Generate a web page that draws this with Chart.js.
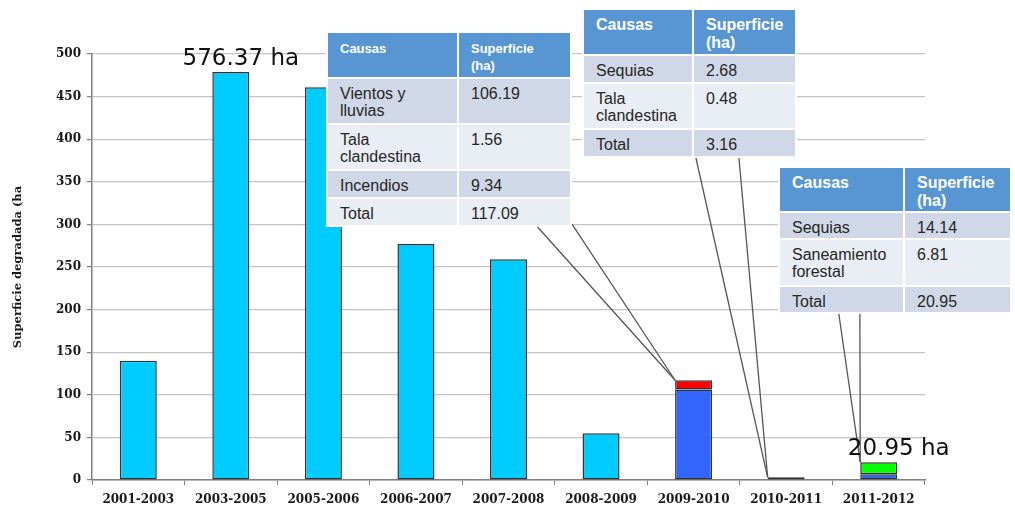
<!DOCTYPE html>
<html>
<head>
<meta charset="utf-8">
<script src="https://cdn.jsdelivr.net/npm/chart.js@4.4.1/dist/chart.umd.min.js"></script>
<style>
  body { margin: 0; background: #fff; }
  #wrap { position: relative; width: 1015px; height: 512px; overflow: hidden; }
  #chart { position: absolute; left: 0; top: 0; }
  table.causas { position: absolute; border-collapse: collapse; table-layout: fixed; background: #fff;
    font-family: "Liberation Sans", Arial, sans-serif; font-size: 16px; color: #262626; }
  table.causas td { border: 2px solid #fff; padding: 6px 0 0 12px; vertical-align: top; line-height: 17px;
    white-space: nowrap; overflow: hidden; }
  table.causas tr.hd td { background: #5896D3; color: #fff; font-weight: bold; line-height: 18px; }
  table.causas tr.dk td { background: #D0D8E8; }
  table.causas tr.lt td { background: #E9EDF4; }
  #t1 { left: 326px; top: 31px; width: 246px; }
  #t1 tr.hd td { font-size: 13px; line-height: 17px; padding-top: 7px; }
  #t2 { left: 582px; top: 8px; width: 215px; }
  #t3 { left: 778px; top: 166px; width: 234px; }
</style>
</head>
<body>
<div id="wrap">
  <canvas id="chart" width="1015" height="512"></canvas>
</div>
<script>
// Data
const categories = ['2001-2003', '2003-2005', '2005-2006', '2006-2007', '2007-2008', '2008-2009', '2009-2010', '2010-2011', '2011-2012'];
const periodTotal = [140, 479, 461, 277, 259, 55, null, null, null];
const firstCause = [null, null, null, null, null, null, 106.19, 3.16, 6.81];
const secondCause = [null, null, null, null, null, null, 10.9, null, null];
const thirdCause = [null, null, null, null, null, null, null, null, 14.14];
const calloutIndex = [1, 8];
const calloutText = ['576.37 ha', '20.95 ha'];

const headCausas = 'Causas';
const headSuperficie = 'Superficie\n(ha)';
const causas1 = ['Vientos y\nlluvias', 'Tala\nclandestina', 'Incendios', 'Total'];
const sup1 = ['106.19', '1.56', '9.34', '117.09'];
const causas2 = ['Sequias', 'Tala\nclandestina', 'Total'];
const sup2 = ['2.68', '0.48', '3.16'];
const causas3 = ['Sequias', 'Saneamiento\nforestal', 'Total'];
const sup3 = ['14.14', '6.81', '20.95'];

// Table layout (styles kept apart from data)
const tables = [
  { id: 't1', causas: causas1, sup: sup1, target: 6, col1: 131, rows: [46, 46, 46, 28, 28], anchors: [[0.86, 1], [1, 0.985]] },
  { id: 't2', causas: causas2, sup: sup2, target: 7, col1: 110, rows: [46, 28, 46, 28], anchors: [[0.53, 1], [0.73, 1]] },
  { id: 't3', causas: causas3, sup: sup3, target: 8, col1: 125, rows: [45, 27, 47, 27], anchors: [[0.26, 1], [0.35, 1]] }
];
const calloutShift = [10, 20];

const wrap = document.getElementById('wrap');
const br = s => s.replace(/\n/g, '<br>');
tables.forEach(t => {
  const tbl = document.createElement('table');
  tbl.className = 'causas';
  tbl.id = t.id;
  let html = `<colgroup><col style="width:${t.col1}px"><col></colgroup>`;
  html += `<tr class="hd" style="height:${t.rows[0]}px"><td>${headCausas}</td><td>${br(headSuperficie)}</td></tr>`;
  t.causas.forEach((c, i) => {
    html += `<tr class="${i % 2 === 0 ? 'dk' : 'lt'}" style="height:${t.rows[i + 1]}px"><td>${br(c)}</td><td>${t.sup[i]}</td></tr>`;
  });
  tbl.innerHTML = html;
  wrap.appendChild(tbl);
});

// top-left corner of the highest stacked piece in a category
function barTop(chart, index) {
  let top = null;
  chart.data.datasets.forEach((ds, di) => {
    if (ds.data[index] == null) return;
    const el = chart.getDatasetMeta(di).data[index];
    const y = Math.min(el.y, el.base);
    if (!top || y < top.y) top = { x: el.x - el.width / 2, cx: el.x, y: y };
  });
  return top;
}

const overlayPlugin = {
  id: 'overlay',
  afterDatasetsDraw(chart) {
    const ctx = chart.ctx;
    const wr = wrap.getBoundingClientRect();
    ctx.save();
    // leader lines
    ctx.strokeStyle = '#555';
    ctx.lineWidth = 1.3;
    tables.forEach(t => {
      const r = document.getElementById(t.id).getBoundingClientRect();
      const p = barTop(chart, t.target);
      t.anchors.forEach(a => {
        ctx.beginPath();
        ctx.moveTo(r.left - wr.left + a[0] * r.width, r.top - wr.top + a[1] * r.height);
        ctx.lineTo(p.x, p.y);
        ctx.stroke();
      });
    });
    // callouts
    ctx.font = '23px "DejaVu Sans"';
    ctx.fillStyle = '#111';
    ctx.textAlign = 'center';
    ctx.textBaseline = 'alphabetic';
    calloutIndex.forEach((idx, i) => {
      const p = barTop(chart, idx);
      ctx.fillText(calloutText[i], p.cx + calloutShift[i], p.y - 7);
    });
    ctx.restore();
  }
};

const tickFont = { family: '"DejaVu Serif"', size: 12, weight: 'bold' };
const barStyle = { borderColor: '#333333', borderWidth: 1.5, borderSkipped: false, barPercentage: 0.4, categoryPercentage: 1 };

new Chart(document.getElementById('chart').getContext('2d'), {
  type: 'bar',
  data: {
    labels: categories,
    datasets: [
      { label: 'Total', data: periodTotal, backgroundColor: '#00CCFF', ...barStyle },
      { label: 'Causa 1', data: firstCause, backgroundColor: '#3366FF', ...barStyle },
      { label: 'Causa 2', data: secondCause, backgroundColor: '#FF0000', ...barStyle },
      { label: 'Causa 3', data: thirdCause, backgroundColor: '#00FF00', ...barStyle }
    ]
  },
  options: {
    responsive: false,
    animation: false,
    layout: { padding: { left: 0, right: 90, top: 54, bottom: 0 } },
    plugins: { legend: { display: false }, tooltip: { enabled: false } },
    scales: {
      x: {
        stacked: true,
        grid: { drawOnChartArea: false, drawTicks: true, tickLength: 5, tickColor: '#808080', offset: true },
        border: { color: '#808080', width: 1.5 },
        ticks: { font: tickFont, color: '#1a1a1a', padding: 8, maxRotation: 0, autoSkip: false },
        afterFit: s => { s.height = 32; }
      },
      y: {
        stacked: true,
        min: 0, max: 500,
        grid: { color: '#c4c4c4', lineWidth: 1.2, tickLength: 5, tickColor: '#808080' },
        border: { color: '#808080', width: 1.5 },
        ticks: { stepSize: 50, font: tickFont, color: '#1a1a1a', padding: 6 },
        title: { display: true, text: 'Superficie degradada (ha', font: { family: '"DejaVu Serif"', size: 11.5, weight: 'bold' }, color: '#1a1a1a', padding: { top: 11, bottom: 0 } },
        afterFit: s => { s.width = 92; }
      }
    }
  },
  plugins: [overlayPlugin]
});
</script>
</body>
</html>
